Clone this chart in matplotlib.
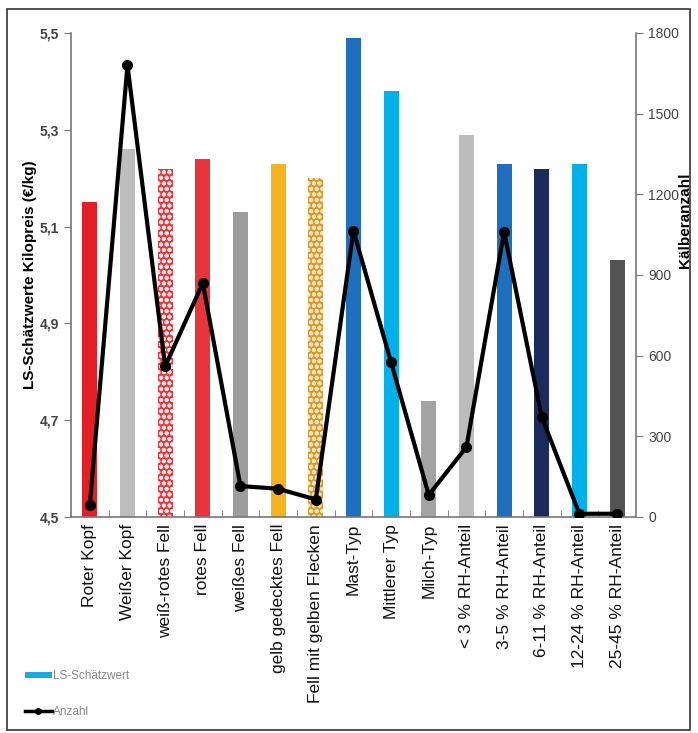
import matplotlib.pyplot as plt
from matplotlib.lines import Line2D
from matplotlib.patches import Patch, Rectangle
import numpy as np

plt.rcParams['font.family'] = ['Liberation Sans', 'DejaVu Sans']
plt.rcParams['hatch.linewidth'] = 1.3

# categories and values
categories = ['Roter Kopf', 'Weißer Kopf', 'weiß-rotes Fell', 'rotes Fell',
              'weißes Fell', 'gelb gedecktes Fell', 'Fell mit gelben Flecken',
              'Mast-Typ', 'Mittlerer Typ', 'Milch-Typ', '< 3 % RH-Anteil',
              '3-5 % RH-Anteil', '6-11 % RH-Anteil', '12-24 % RH-Anteil',
              '25-45 % RH-Anteil']
ls_preis = [5.15, 5.26, 5.22, 5.24, 5.13, 5.23, 5.20, 5.49, 5.38, 4.74,
            5.29, 5.23, 5.22, 5.23, 5.03]
anzahl = [45, 1680, 560, 870, 115, 105, 65, 1065, 575, 82, 260, 1060, 372, 12, 12]

bar_colors = ['#e31e24', '#bdbdbd', '#e5383c', '#e8343a', '#9d9d9d', '#f5b41c',
              '#d49a35', '#1f6fbf', '#00b0e8', '#a3a3a3', '#bcbcbc', '#1f6fbf',
              '#1b2a5c', '#00b0e8', '#545454']
hatches = [None, None, 'ooo', None, None, None, 'ooo', None, None, None,
           None, None, None, None, None]
hatch_colors = {2: '#fbe3e3', 6: '#f6e4b4'}

fig = plt.figure(figsize=(6.98, 7.33), dpi=100)
ax = fig.add_axes([0.1017, 0.2947, 0.8093, 0.6603])
ax2 = ax.twinx()

x = np.arange(len(categories))
for i in x:
    ax.bar(i, ls_preis[i] - 4.5, bottom=4.5, width=0.4, color=bar_colors[i],
           hatch=hatches[i], edgecolor=hatch_colors.get(i, bar_colors[i]),
           linewidth=0, zorder=2)

ax.set_xlim(-0.5, len(categories) - 0.5)
ax.set_ylim(4.5, 5.5)
yt = np.arange(4.5, 5.51, 0.2)
ax.set_yticks(yt)
ax.set_yticklabels([f'{v:.1f}'.replace('.', ',') for v in yt],
                   fontsize=10, fontweight='bold', color='#444444')
ax.set_xticks(x)
ax.set_xticklabels(categories, rotation=90, fontsize=12.5, color='#111111')
ax.tick_params(axis='x', length=0, pad=5)
ax.set_xticks(np.arange(0.5, len(categories) - 0.5, 1), minor=True)
ax.tick_params(axis='x', which='minor', direction='in', length=5, color='#777777')
ax.tick_params(axis='y', direction='out', length=5, color='#777777')
for s in ['top', 'right']:
    ax.spines[s].set_visible(False)
for s in ['left', 'bottom']:
    ax.spines[s].set_color('#777777')
    ax.spines[s].set_linewidth(1.2)
ax.set_ylabel('LS-Schätzwerte Kilopreis (€/kg)', fontsize=11, fontweight='bold',
              labelpad=2)

ax2.plot(x, anzahl, color='black', linewidth=3, marker='o', markersize=7, zorder=3)
ax2.set_ylim(0, 1800)
ax2.set_yticks(np.arange(0, 1801, 300))
ax2.tick_params(axis='y', direction='out', length=5, color='#777777',
                labelsize=10, labelcolor='#444444', pad=4)
for s in ['top', 'left', 'bottom']:
    ax2.spines[s].set_visible(False)
ax2.spines['right'].set_color('#777777')
ax2.spines['right'].set_linewidth(1.2)

fig.text(0.982, 0.70, 'Kälberanzahl', rotation=90, fontsize=11,
         fontweight='bold', ha='center', va='center')

# legend below the chart
handles = [Patch(facecolor='#1ba8e0', edgecolor='none'),
           Line2D([0], [0], color='black', linewidth=2.5, marker='o', markersize=4)]
fig.legend(handles, ['LS-Schätzwert', 'Anzahl'], loc='upper left',
           bbox_to_anchor=(0.02, 0.1), frameon=False, fontsize=8.5,
           labelcolor='#888888', handlelength=2.3, handleheight=0.4,
           handletextpad=0.1, labelspacing=2.0)

# outer frame
fig.add_artist(Rectangle((0.01, 0.004), 0.978, 0.984, transform=fig.transFigure,
                         fill=False, edgecolor='#333333', linewidth=1.2))

fig.savefig('out.png', dpi=100)
